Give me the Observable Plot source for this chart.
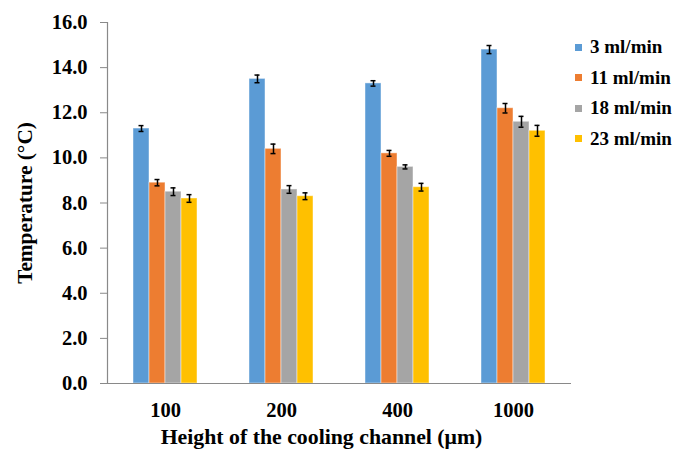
<!DOCTYPE html>
<html>
<head>
<meta charset="utf-8">
<script src="https://cdn.jsdelivr.net/npm/d3@7"></script>
<script src="https://cdn.jsdelivr.net/npm/@observablehq/plot@0.6"></script>
<style>
  body { margin: 0; background: #fff; }
  #wrap { position: relative; width: 687px; height: 449px; font-family: 'Liberation Serif', 'Times New Roman', serif; }
  #legend { position: absolute; left: 575px; top: 32px; font-weight: bold; font-size: 19px; }
  .row { display: flex; align-items: center; height: 30.5px; }
  .sw { width: 7px; height: 7px; margin-right: 8px; }
</style>
</head>
<body>
<div id="wrap"><div id="legend"></div></div>
<script>
const heights = ["100", "200", "400", "1000"];
const flows = ["3 ml/min", "11 ml/min", "18 ml/min", "23 ml/min"];
const colors = ["#5B9BD5", "#ED7D31", "#A5A5A5", "#FFC000"];
const temp3 = [11.3, 13.5, 13.3, 14.8];
const temp11 = [8.9, 10.4, 10.2, 12.2];
const temp18 = [8.5, 8.6, 9.6, 11.6];
const temp23 = [8.2, 8.3, 8.7, 11.2];
const err3 = [0.13, 0.17, 0.12, 0.18];
const err11 = [0.14, 0.21, 0.13, 0.21];
const err18 = [0.17, 0.17, 0.09, 0.24];
const err23 = [0.17, 0.15, 0.17, 0.24];
const yTicks = [0, 2, 4, 6, 8, 10, 12, 14, 16];
const yLabel = "Temperature (°C)";
const xLabel = "Height of the cooling channel (μm)";

const temps = [temp3, temp11, temp18, temp23];
const errs = [err3, err11, err18, err23];
const data = heights.flatMap((h, i) => flows.map((f, j) => ({
  height: h, flow: f, temp: temps[j][i], err: errs[j][i]
})));

const axisGray = "#898989";

const chart = Plot.plot({
  width: 687,
  height: 449,
  marginLeft: 107,
  marginRight: 116,
  marginTop: 22,
  marginBottom: 66,
  style: { fontFamily: "'Liberation Serif', 'Times New Roman', serif", fontSize: "20px", fontWeight: "bold", background: "white", color: "black" },
  fx: { domain: heights, padding: 0 },
  x: { domain: flows, paddingInner: 0, paddingOuter: 1.5 },
  y: { domain: [0, 16] },
  color: { domain: flows, range: colors },
  marks: [
    Plot.barY(data, { fx: "height", x: "flow", y: "temp", fill: "flow", stroke: "white", strokeOpacity: 0.45, strokeWidth: 1 }),
    Plot.ruleX(data, { fx: "height", x: "flow", y1: d => d.temp - d.err, y2: d => d.temp + d.err, stroke: "black", strokeWidth: 1.5 }),
    Plot.tickY(data, { fx: "height", x: "flow", y: d => d.temp - d.err, inset: 5.5, stroke: "black", strokeWidth: 1.5 }),
    Plot.tickY(data, { fx: "height", x: "flow", y: d => d.temp + d.err, inset: 5.5, stroke: "black", strokeWidth: 1.5 }),
    Plot.ruleY([0], { stroke: axisGray, strokeWidth: 1.2 }),
    Plot.frame({ anchor: "left", facet: "super", stroke: axisGray, strokeWidth: 1.2 }),
    Plot.axisY({ ticks: yTicks, tickFormat: d => d.toFixed(1), tickSize: 7, tickPadding: 13, stroke: axisGray, fill: "black", label: null, fontSize: 20.5 }),
    Plot.axisX({ ticks: [], label: null }),
    Plot.axisFx({ anchor: "bottom", tickSize: 0, tickPadding: 19, label: null, fill: "black", fontSize: 20.5 }),
    Plot.text([yLabel], { text: d => d, facet: "super", frameAnchor: "left", rotate: -90, dx: -82, textAnchor: "middle", lineAnchor: "middle", fontSize: 21.3 }),
    Plot.text([xLabel], { text: d => d, facet: "super", frameAnchor: "bottom", dx: -18, dy: 54, textAnchor: "middle", lineAnchor: "middle", fontSize: 21.8 })
  ]
});

const wrap = document.getElementById("wrap");
wrap.insertBefore(chart, wrap.firstChild);

const legend = document.getElementById("legend");
flows.forEach((f, i) => {
  const row = document.createElement("div");
  row.className = "row";
  const sw = document.createElement("div");
  sw.className = "sw";
  sw.style.background = colors[i];
  const t = document.createElement("span");
  t.textContent = f;
  row.appendChild(sw);
  row.appendChild(t);
  legend.appendChild(row);
});
</script>
</body>
</html>
